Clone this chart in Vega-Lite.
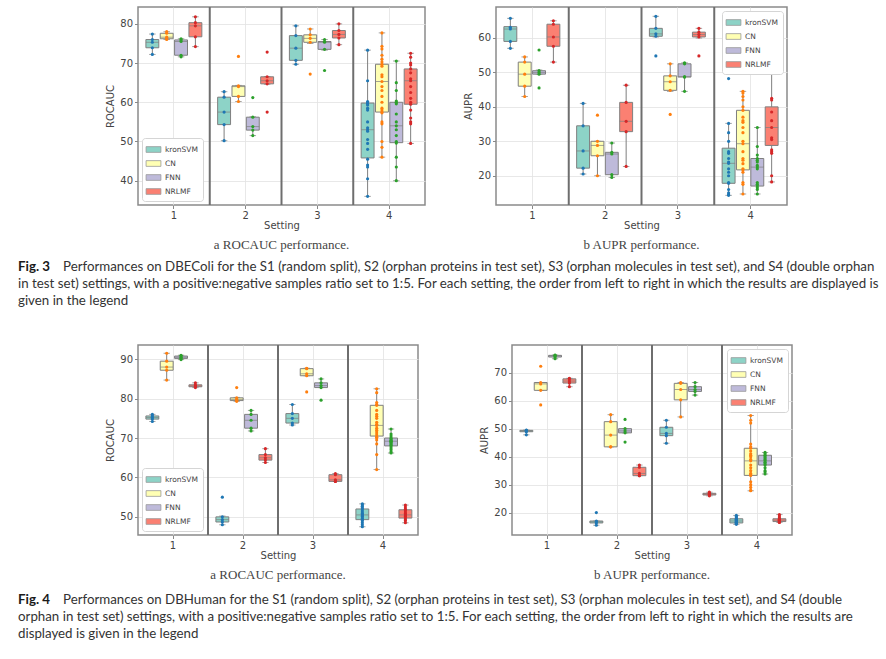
{
"$schema": "https://vega.github.io/schema/vega-lite/v6.json",
"padding": {"left": 18, "top": 5, "right": 0, "bottom": 0},
"autosize": {"type": "pad"},
"background": "white",
"spacing": 0,
"resolve": {"scale": {"fill": "independent", "color": "independent"}, "legend": {"fill": "independent", "color": "independent"}},
"config": {
  "font": "DejaVu Sans",
  "view": {"stroke": "#8a8a8a", "strokeWidth": 1.5},
  "axis": {"labelFont": "DejaVu Sans", "titleFont": "DejaVu Sans", "labelFontSize": 10, "titleFontSize": 10, "labelColor": "#444", "titleColor": "#444", "titleFontWeight": "normal", "grid": true, "gridColor": "#e2e2e2", "gridWidth": 0.8, "domain": false, "tickColor": "#888", "tickSize": 3.5, "labelPadding": 2, "titlePadding": 4},
  "axisX": {"titlePadding": 0},
  "legend": {"labelFont": "DejaVu Sans", "labelFontSize": 7.5, "labelColor": "#444", "symbolType": "M-1.3,-0.5H1.3V0.5H-1.3Z", "symbolSize": 130, "symbolStrokeColor": "#999", "symbolStrokeWidth": 0.8, "fillColor": "#ffffff", "strokeColor": "#d5d5d5", "cornerRadius": 3, "padding": 5, "offset": 4, "rowPadding": 3, "labelOffset": 5},
  "title": {"font": "Liberation Serif", "fontSize": 13, "fontWeight": "normal", "color": "#444"}
},
"datasets": {
  "sep": [{"setting": "2"}, {"setting": "3"}, {"setting": "4"}],
  "p1_box": [
    {"setting":"1","method":"kronSVM","lo":72.2,"q1":73.9,"med":75.3,"q3":76.0,"hi":77.4},
    {"setting":"1","method":"CN","lo":76.0,"q1":76.2,"med":76.6,"q3":77.6,"hi":78.0},
    {"setting":"1","method":"FNN","lo":71.6,"q1":72.0,"med":75.5,"q3":75.9,"hi":76.2},
    {"setting":"1","method":"NRLMF","lo":74.2,"q1":76.7,"med":79.5,"q3":80.3,"hi":81.8},
    {"setting":"2","method":"kronSVM","lo":50.2,"q1":54.3,"med":57.5,"q3":61.3,"hi":62.7},
    {"setting":"2","method":"CN","lo":60.2,"q1":61.5,"med":64.0,"q3":64.2,"hi":64.3},
    {"setting":"2","method":"FNN","lo":51.5,"q1":52.9,"med":53.8,"q3":56.2,"hi":56.3},
    {"setting":"2","method":"NRLMF","lo":64.6,"q1":64.7,"med":65.5,"q3":66.5,"hi":66.6},
    {"setting":"3","method":"kronSVM","lo":69.7,"q1":70.7,"med":73.8,"q3":77.0,"hi":79.5},
    {"setting":"3","method":"CN","lo":75.0,"q1":75.3,"med":76.3,"q3":77.2,"hi":78.7},
    {"setting":"3","method":"FNN","lo":73.3,"q1":73.5,"med":75.3,"q3":75.5,"hi":76.0},
    {"setting":"3","method":"NRLMF","lo":74.7,"q1":76.4,"med":77.3,"q3":78.3,"hi":80.0},
    {"setting":"4","method":"kronSVM","lo":36.0,"q1":45.8,"med":53.0,"q3":59.8,"hi":73.3},
    {"setting":"4","method":"CN","lo":46.0,"q1":57.5,"med":65.3,"q3":69.7,"hi":77.7},
    {"setting":"4","method":"FNN","lo":40.0,"q1":49.7,"med":54.0,"q3":60.0,"hi":70.5},
    {"setting":"4","method":"NRLMF","lo":49.5,"q1":59.5,"med":65.5,"q3":68.5,"hi":72.5}
  ],
  "p1_pts": [
    {"setting":"1","method":"kronSVM","value":77.4},{"setting":"1","method":"kronSVM","value":76.0},{"setting":"1","method":"kronSVM","value":75.3},{"setting":"1","method":"kronSVM","value":73.9},{"setting":"1","method":"kronSVM","value":72.2},
    {"setting":"1","method":"CN","value":78.0},{"setting":"1","method":"CN","value":77.6},{"setting":"1","method":"CN","value":76.6},{"setting":"1","method":"CN","value":76.2},{"setting":"1","method":"CN","value":76.0},
    {"setting":"1","method":"FNN","value":76.2},{"setting":"1","method":"FNN","value":75.9},{"setting":"1","method":"FNN","value":75.5},{"setting":"1","method":"FNN","value":72.0},{"setting":"1","method":"FNN","value":71.6},
    {"setting":"1","method":"NRLMF","value":81.8},{"setting":"1","method":"NRLMF","value":80.3},{"setting":"1","method":"NRLMF","value":79.5},{"setting":"1","method":"NRLMF","value":76.7},{"setting":"1","method":"NRLMF","value":74.2},
    {"setting":"2","method":"kronSVM","value":62.7},{"setting":"2","method":"kronSVM","value":61.3},{"setting":"2","method":"kronSVM","value":57.5},{"setting":"2","method":"kronSVM","value":54.3},{"setting":"2","method":"kronSVM","value":50.2},
    {"setting":"2","method":"CN","value":71.7},{"setting":"2","method":"CN","value":64.2},{"setting":"2","method":"CN","value":64.0},{"setting":"2","method":"CN","value":61.5},{"setting":"2","method":"CN","value":60.2},
    {"setting":"2","method":"FNN","value":61.2},{"setting":"2","method":"FNN","value":56.2},{"setting":"2","method":"FNN","value":53.8},{"setting":"2","method":"FNN","value":52.9},{"setting":"2","method":"FNN","value":51.5},
    {"setting":"2","method":"NRLMF","value":72.8},{"setting":"2","method":"NRLMF","value":66.5},{"setting":"2","method":"NRLMF","value":65.5},{"setting":"2","method":"NRLMF","value":64.7},{"setting":"2","method":"NRLMF","value":57.5},
    {"setting":"3","method":"kronSVM","value":79.5},{"setting":"3","method":"kronSVM","value":77.0},{"setting":"3","method":"kronSVM","value":73.8},{"setting":"3","method":"kronSVM","value":70.7},{"setting":"3","method":"kronSVM","value":69.7},
    {"setting":"3","method":"CN","value":78.7},{"setting":"3","method":"CN","value":77.2},{"setting":"3","method":"CN","value":76.3},{"setting":"3","method":"CN","value":75.3},{"setting":"3","method":"CN","value":67.2},
    {"setting":"3","method":"FNN","value":76.0},{"setting":"3","method":"FNN","value":75.5},{"setting":"3","method":"FNN","value":75.3},{"setting":"3","method":"FNN","value":73.5},{"setting":"3","method":"FNN","value":68.1},
    {"setting":"3","method":"NRLMF","value":80.0},{"setting":"3","method":"NRLMF","value":78.3},{"setting":"3","method":"NRLMF","value":77.3},{"setting":"3","method":"NRLMF","value":76.4},{"setting":"3","method":"NRLMF","value":74.7},
    {"setting":"4","method":"kronSVM","value":73.3},{"setting":"4","method":"kronSVM","value":65.5},{"setting":"4","method":"kronSVM","value":60.2},{"setting":"4","method":"kronSVM","value":59.9},{"setting":"4","method":"kronSVM","value":59.6},{"setting":"4","method":"kronSVM","value":59.3},{"setting":"4","method":"kronSVM","value":58.5},{"setting":"4","method":"kronSVM","value":58.0},{"setting":"4","method":"kronSVM","value":55.0},{"setting":"4","method":"kronSVM","value":53.5},{"setting":"4","method":"kronSVM","value":53.0},{"setting":"4","method":"kronSVM","value":52.6},{"setting":"4","method":"kronSVM","value":50.5},{"setting":"4","method":"kronSVM","value":49.5},{"setting":"4","method":"kronSVM","value":48.0},{"setting":"4","method":"kronSVM","value":45.5},{"setting":"4","method":"kronSVM","value":44.0},{"setting":"4","method":"kronSVM","value":43.5},{"setting":"4","method":"kronSVM","value":40.5},{"setting":"4","method":"kronSVM","value":36.0},
    {"setting":"4","method":"CN","value":77.7},{"setting":"4","method":"CN","value":74.3},{"setting":"4","method":"CN","value":73.6},{"setting":"4","method":"CN","value":72.0},{"setting":"4","method":"CN","value":71.0},{"setting":"4","method":"CN","value":70.3},{"setting":"4","method":"CN","value":69.7},{"setting":"4","method":"CN","value":69.2},{"setting":"4","method":"CN","value":67.0},{"setting":"4","method":"CN","value":66.5},{"setting":"4","method":"CN","value":65.3},{"setting":"4","method":"CN","value":64.0},{"setting":"4","method":"CN","value":63.0},{"setting":"4","method":"CN","value":61.5},{"setting":"4","method":"CN","value":60.0},{"setting":"4","method":"CN","value":58.5},{"setting":"4","method":"CN","value":58.0},{"setting":"4","method":"CN","value":57.5},{"setting":"4","method":"CN","value":57.3},{"setting":"4","method":"CN","value":55.0},{"setting":"4","method":"CN","value":54.5},{"setting":"4","method":"CN","value":50.0},{"setting":"4","method":"CN","value":48.5},{"setting":"4","method":"CN","value":46.0},
    {"setting":"4","method":"FNN","value":70.5},{"setting":"4","method":"FNN","value":65.0},{"setting":"4","method":"FNN","value":63.0},{"setting":"4","method":"FNN","value":60.3},{"setting":"4","method":"FNN","value":60.0},{"setting":"4","method":"FNN","value":59.6},{"setting":"4","method":"FNN","value":57.0},{"setting":"4","method":"FNN","value":55.0},{"setting":"4","method":"FNN","value":54.0},{"setting":"4","method":"FNN","value":53.0},{"setting":"4","method":"FNN","value":51.5},{"setting":"4","method":"FNN","value":50.0},{"setting":"4","method":"FNN","value":49.6},{"setting":"4","method":"FNN","value":46.0},{"setting":"4","method":"FNN","value":43.5},{"setting":"4","method":"FNN","value":40.0},
    {"setting":"4","method":"NRLMF","value":72.5},{"setting":"4","method":"NRLMF","value":71.5},{"setting":"4","method":"NRLMF","value":70.0},{"setting":"4","method":"NRLMF","value":69.5},{"setting":"4","method":"NRLMF","value":68.5},{"setting":"4","method":"NRLMF","value":67.5},{"setting":"4","method":"NRLMF","value":66.0},{"setting":"4","method":"NRLMF","value":65.5},{"setting":"4","method":"NRLMF","value":64.0},{"setting":"4","method":"NRLMF","value":62.5},{"setting":"4","method":"NRLMF","value":61.0},{"setting":"4","method":"NRLMF","value":60.0},{"setting":"4","method":"NRLMF","value":59.5},{"setting":"4","method":"NRLMF","value":58.0},{"setting":"4","method":"NRLMF","value":56.0},{"setting":"4","method":"NRLMF","value":55.0},{"setting":"4","method":"NRLMF","value":54.5},{"setting":"4","method":"NRLMF","value":49.5}
  ],
  "p2_box": [
    {"setting":"1","method":"kronSVM","lo":57.0,"q1":59.0,"med":62.6,"q3":63.3,"hi":65.7},
    {"setting":"1","method":"CN","lo":43.0,"q1":46.0,"med":49.5,"q3":53.0,"hi":54.5},
    {"setting":"1","method":"FNN","lo":49.5,"q1":49.5,"med":50.0,"q3":50.5,"hi":50.7},
    {"setting":"1","method":"NRLMF","lo":53.0,"q1":57.6,"med":60.3,"q3":64.0,"hi":65.0},
    {"setting":"2","method":"kronSVM","lo":20.5,"q1":22.2,"med":27.2,"q3":34.5,"hi":41.0},
    {"setting":"2","method":"CN","lo":20.0,"q1":25.8,"med":28.8,"q3":30.0,"hi":30.0},
    {"setting":"2","method":"FNN","lo":19.5,"q1":20.3,"med":26.3,"q3":26.8,"hi":29.5},
    {"setting":"2","method":"NRLMF","lo":22.7,"q1":32.8,"med":35.8,"q3":41.3,"hi":46.3},
    {"setting":"3","method":"kronSVM","lo":60.3,"q1":60.5,"med":61.2,"q3":62.8,"hi":66.3},
    {"setting":"3","method":"CN","lo":44.5,"q1":44.8,"med":47.3,"q3":49.0,"hi":52.5},
    {"setting":"3","method":"FNN","lo":44.5,"q1":48.7,"med":48.7,"q3":52.5,"hi":52.8},
    {"setting":"3","method":"NRLMF","lo":60.0,"q1":60.3,"med":61.0,"q3":61.7,"hi":62.8},
    {"setting":"4","method":"kronSVM","lo":14.3,"q1":17.8,"med":23.6,"q3":28.0,"hi":35.2},
    {"setting":"4","method":"CN","lo":14.7,"q1":21.7,"med":29.3,"q3":39.0,"hi":44.5},
    {"setting":"4","method":"FNN","lo":14.7,"q1":17.0,"med":22.5,"q3":25.0,"hi":34.0},
    {"setting":"4","method":"NRLMF","lo":18.2,"q1":28.8,"med":34.0,"q3":40.0,"hi":53.5}
  ],
  "p2_pts": [
    {"setting":"1","method":"kronSVM","value":65.7},{"setting":"1","method":"kronSVM","value":63.1},{"setting":"1","method":"kronSVM","value":62.6},{"setting":"1","method":"kronSVM","value":59.0},{"setting":"1","method":"kronSVM","value":57.0},
    {"setting":"1","method":"CN","value":54.5},{"setting":"1","method":"CN","value":53.0},{"setting":"1","method":"CN","value":49.5},{"setting":"1","method":"CN","value":46.0},{"setting":"1","method":"CN","value":43.0},
    {"setting":"1","method":"FNN","value":56.5},{"setting":"1","method":"FNN","value":50.5},{"setting":"1","method":"FNN","value":50.0},{"setting":"1","method":"FNN","value":49.5},{"setting":"1","method":"FNN","value":45.5},
    {"setting":"1","method":"NRLMF","value":65.0},{"setting":"1","method":"NRLMF","value":64.0},{"setting":"1","method":"NRLMF","value":60.3},{"setting":"1","method":"NRLMF","value":57.6},{"setting":"1","method":"NRLMF","value":53.0},
    {"setting":"2","method":"kronSVM","value":41.0},{"setting":"2","method":"kronSVM","value":34.5},{"setting":"2","method":"kronSVM","value":27.2},{"setting":"2","method":"kronSVM","value":22.2},{"setting":"2","method":"kronSVM","value":20.5},
    {"setting":"2","method":"CN","value":37.6},{"setting":"2","method":"CN","value":30.0},{"setting":"2","method":"CN","value":28.8},{"setting":"2","method":"CN","value":25.8},{"setting":"2","method":"CN","value":20.0},
    {"setting":"2","method":"FNN","value":29.5},{"setting":"2","method":"FNN","value":26.8},{"setting":"2","method":"FNN","value":26.3},{"setting":"2","method":"FNN","value":20.3},{"setting":"2","method":"FNN","value":19.5},
    {"setting":"2","method":"NRLMF","value":46.3},{"setting":"2","method":"NRLMF","value":41.3},{"setting":"2","method":"NRLMF","value":35.8},{"setting":"2","method":"NRLMF","value":32.8},{"setting":"2","method":"NRLMF","value":22.7},
    {"setting":"3","method":"kronSVM","value":66.3},{"setting":"3","method":"kronSVM","value":62.8},{"setting":"3","method":"kronSVM","value":61.2},{"setting":"3","method":"kronSVM","value":60.5},{"setting":"3","method":"kronSVM","value":54.8},
    {"setting":"3","method":"CN","value":52.5},{"setting":"3","method":"CN","value":49.0},{"setting":"3","method":"CN","value":47.3},{"setting":"3","method":"CN","value":44.8},{"setting":"3","method":"CN","value":37.8},
    {"setting":"3","method":"FNN","value":52.8},{"setting":"3","method":"FNN","value":52.5},{"setting":"3","method":"FNN","value":48.7},{"setting":"3","method":"FNN","value":48.7},{"setting":"3","method":"FNN","value":44.5},
    {"setting":"3","method":"NRLMF","value":62.8},{"setting":"3","method":"NRLMF","value":61.7},{"setting":"3","method":"NRLMF","value":61.0},{"setting":"3","method":"NRLMF","value":60.3},{"setting":"3","method":"NRLMF","value":54.8},
    {"setting":"4","method":"kronSVM","value":48.2},{"setting":"4","method":"kronSVM","value":35.2},{"setting":"4","method":"kronSVM","value":32.5},{"setting":"4","method":"kronSVM","value":30.0},{"setting":"4","method":"kronSVM","value":27.0},{"setting":"4","method":"kronSVM","value":26.5},{"setting":"4","method":"kronSVM","value":25.0},{"setting":"4","method":"kronSVM","value":24.0},{"setting":"4","method":"kronSVM","value":23.6},{"setting":"4","method":"kronSVM","value":22.0},{"setting":"4","method":"kronSVM","value":21.0},{"setting":"4","method":"kronSVM","value":20.0},{"setting":"4","method":"kronSVM","value":18.0},{"setting":"4","method":"kronSVM","value":17.8},{"setting":"4","method":"kronSVM","value":16.0},{"setting":"4","method":"kronSVM","value":15.0},{"setting":"4","method":"kronSVM","value":14.5},{"setting":"4","method":"kronSVM","value":14.3},
    {"setting":"4","method":"CN","value":44.5},{"setting":"4","method":"CN","value":44.0},{"setting":"4","method":"CN","value":43.0},{"setting":"4","method":"CN","value":42.0},{"setting":"4","method":"CN","value":40.0},{"setting":"4","method":"CN","value":39.0},{"setting":"4","method":"CN","value":37.0},{"setting":"4","method":"CN","value":36.0},{"setting":"4","method":"CN","value":35.5},{"setting":"4","method":"CN","value":34.0},{"setting":"4","method":"CN","value":32.5},{"setting":"4","method":"CN","value":30.0},{"setting":"4","method":"CN","value":29.3},{"setting":"4","method":"CN","value":27.0},{"setting":"4","method":"CN","value":25.0},{"setting":"4","method":"CN","value":24.5},{"setting":"4","method":"CN","value":23.5},{"setting":"4","method":"CN","value":22.0},{"setting":"4","method":"CN","value":21.7},{"setting":"4","method":"CN","value":21.0},{"setting":"4","method":"CN","value":18.0},{"setting":"4","method":"CN","value":17.5},{"setting":"4","method":"CN","value":14.7},
    {"setting":"4","method":"FNN","value":49.7},{"setting":"4","method":"FNN","value":34.0},{"setting":"4","method":"FNN","value":28.5},{"setting":"4","method":"FNN","value":26.0},{"setting":"4","method":"FNN","value":25.0},{"setting":"4","method":"FNN","value":24.5},{"setting":"4","method":"FNN","value":24.0},{"setting":"4","method":"FNN","value":23.0},{"setting":"4","method":"FNN","value":22.5},{"setting":"4","method":"FNN","value":22.0},{"setting":"4","method":"FNN","value":18.0},{"setting":"4","method":"FNN","value":17.5},{"setting":"4","method":"FNN","value":17.0},{"setting":"4","method":"FNN","value":16.5},{"setting":"4","method":"FNN","value":16.0},{"setting":"4","method":"FNN","value":14.7},
    {"setting":"4","method":"NRLMF","value":53.5},{"setting":"4","method":"NRLMF","value":51.5},{"setting":"4","method":"NRLMF","value":42.5},{"setting":"4","method":"NRLMF","value":42.0},{"setting":"4","method":"NRLMF","value":38.5},{"setting":"4","method":"NRLMF","value":36.0},{"setting":"4","method":"NRLMF","value":34.0},{"setting":"4","method":"NRLMF","value":31.0},{"setting":"4","method":"NRLMF","value":30.5},{"setting":"4","method":"NRLMF","value":27.5},{"setting":"4","method":"NRLMF","value":27.0},{"setting":"4","method":"NRLMF","value":26.5},{"setting":"4","method":"NRLMF","value":20.0},{"setting":"4","method":"NRLMF","value":18.2}
  ],
  "p3_box": [
    {"setting":"1","method":"kronSVM","lo":74.2,"q1":74.8,"med":75.2,"q3":75.6,"hi":76.0},
    {"setting":"1","method":"CN","lo":84.7,"q1":87.2,"med":88.0,"q3":89.5,"hi":91.5},
    {"setting":"1","method":"FNN","lo":89.9,"q1":90.2,"med":90.5,"q3":90.8,"hi":91.0},
    {"setting":"1","method":"NRLMF","lo":82.8,"q1":83.0,"med":83.2,"q3":83.5,"hi":84.0},
    {"setting":"2","method":"kronSVM","lo":48.0,"q1":48.7,"med":49.3,"q3":50.0,"hi":50.2},
    {"setting":"2","method":"CN","lo":79.3,"q1":79.5,"med":79.8,"q3":80.2,"hi":80.3},
    {"setting":"2","method":"FNN","lo":71.8,"q1":72.5,"med":74.5,"q3":76.0,"hi":77.0},
    {"setting":"2","method":"NRLMF","lo":63.8,"q1":64.4,"med":65.0,"q3":65.8,"hi":67.3},
    {"setting":"3","method":"kronSVM","lo":73.3,"q1":73.8,"med":75.0,"q3":76.2,"hi":78.5},
    {"setting":"3","method":"CN","lo":85.8,"q1":85.8,"med":86.3,"q3":87.6,"hi":87.7},
    {"setting":"3","method":"FNN","lo":82.8,"q1":82.8,"med":83.3,"q3":84.0,"hi":85.0},
    {"setting":"3","method":"NRLMF","lo":59.0,"q1":59.0,"med":59.4,"q3":60.7,"hi":61.0},
    {"setting":"4","method":"kronSVM","lo":47.5,"q1":49.3,"med":50.5,"q3":52.0,"hi":53.3},
    {"setting":"4","method":"CN","lo":62.0,"q1":70.5,"med":73.2,"q3":78.3,"hi":82.5},
    {"setting":"4","method":"FNN","lo":66.2,"q1":68.0,"med":69.2,"q3":70.0,"hi":72.3},
    {"setting":"4","method":"NRLMF","lo":48.5,"q1":49.7,"med":50.5,"q3":51.8,"hi":53.0}
  ],
  "p3_pts": [
    {"setting":"1","method":"kronSVM","value":76.0},{"setting":"1","method":"kronSVM","value":75.6},{"setting":"1","method":"kronSVM","value":75.2},{"setting":"1","method":"kronSVM","value":74.8},{"setting":"1","method":"kronSVM","value":74.2},
    {"setting":"1","method":"CN","value":91.5},{"setting":"1","method":"CN","value":89.5},{"setting":"1","method":"CN","value":88.0},{"setting":"1","method":"CN","value":87.2},{"setting":"1","method":"CN","value":84.7},
    {"setting":"1","method":"FNN","value":91.0},{"setting":"1","method":"FNN","value":90.8},{"setting":"1","method":"FNN","value":90.5},{"setting":"1","method":"FNN","value":90.2},{"setting":"1","method":"FNN","value":89.9},
    {"setting":"1","method":"NRLMF","value":84.0},{"setting":"1","method":"NRLMF","value":83.5},{"setting":"1","method":"NRLMF","value":83.2},{"setting":"1","method":"NRLMF","value":83.0},{"setting":"1","method":"NRLMF","value":82.8},
    {"setting":"2","method":"kronSVM","value":55.0},{"setting":"2","method":"kronSVM","value":50.0},{"setting":"2","method":"kronSVM","value":49.3},{"setting":"2","method":"kronSVM","value":48.7},{"setting":"2","method":"kronSVM","value":48.0},
    {"setting":"2","method":"CN","value":82.8},{"setting":"2","method":"CN","value":80.2},{"setting":"2","method":"CN","value":79.8},{"setting":"2","method":"CN","value":79.5},{"setting":"2","method":"CN","value":79.3},
    {"setting":"2","method":"FNN","value":77.0},{"setting":"2","method":"FNN","value":76.0},{"setting":"2","method":"FNN","value":74.5},{"setting":"2","method":"FNN","value":72.5},{"setting":"2","method":"FNN","value":71.8},
    {"setting":"2","method":"NRLMF","value":67.3},{"setting":"2","method":"NRLMF","value":65.8},{"setting":"2","method":"NRLMF","value":65.0},{"setting":"2","method":"NRLMF","value":64.4},{"setting":"2","method":"NRLMF","value":63.8},
    {"setting":"3","method":"kronSVM","value":78.5},{"setting":"3","method":"kronSVM","value":76.2},{"setting":"3","method":"kronSVM","value":75.0},{"setting":"3","method":"kronSVM","value":73.8},{"setting":"3","method":"kronSVM","value":73.3},
    {"setting":"3","method":"CN","value":87.7},{"setting":"3","method":"CN","value":87.6},{"setting":"3","method":"CN","value":86.3},{"setting":"3","method":"CN","value":85.8},{"setting":"3","method":"CN","value":81.7},
    {"setting":"3","method":"FNN","value":85.0},{"setting":"3","method":"FNN","value":84.0},{"setting":"3","method":"FNN","value":83.3},{"setting":"3","method":"FNN","value":82.8},{"setting":"3","method":"FNN","value":79.6},
    {"setting":"3","method":"NRLMF","value":61.0},{"setting":"3","method":"NRLMF","value":60.7},{"setting":"3","method":"NRLMF","value":59.4},{"setting":"3","method":"NRLMF","value":59.0},{"setting":"3","method":"NRLMF","value":59.0},
    {"setting":"4","method":"kronSVM","value":53.3},{"setting":"4","method":"kronSVM","value":53.0},{"setting":"4","method":"kronSVM","value":52.7},{"setting":"4","method":"kronSVM","value":52.3},{"setting":"4","method":"kronSVM","value":52.0},{"setting":"4","method":"kronSVM","value":51.5},{"setting":"4","method":"kronSVM","value":51.0},{"setting":"4","method":"kronSVM","value":50.8},{"setting":"4","method":"kronSVM","value":50.5},{"setting":"4","method":"kronSVM","value":50.2},{"setting":"4","method":"kronSVM","value":50.0},{"setting":"4","method":"kronSVM","value":49.6},{"setting":"4","method":"kronSVM","value":49.3},{"setting":"4","method":"kronSVM","value":49.0},{"setting":"4","method":"kronSVM","value":48.5},{"setting":"4","method":"kronSVM","value":48.0},{"setting":"4","method":"kronSVM","value":47.5},
    {"setting":"4","method":"CN","value":82.5},{"setting":"4","method":"CN","value":81.5},{"setting":"4","method":"CN","value":79.0},{"setting":"4","method":"CN","value":78.5},{"setting":"4","method":"CN","value":78.3},{"setting":"4","method":"CN","value":77.0},{"setting":"4","method":"CN","value":76.0},{"setting":"4","method":"CN","value":75.5},{"setting":"4","method":"CN","value":75.0},{"setting":"4","method":"CN","value":74.0},{"setting":"4","method":"CN","value":73.5},{"setting":"4","method":"CN","value":73.2},{"setting":"4","method":"CN","value":72.5},{"setting":"4","method":"CN","value":72.0},{"setting":"4","method":"CN","value":71.5},{"setting":"4","method":"CN","value":71.0},{"setting":"4","method":"CN","value":70.5},{"setting":"4","method":"CN","value":70.2},{"setting":"4","method":"CN","value":70.0},{"setting":"4","method":"CN","value":69.5},{"setting":"4","method":"CN","value":68.5},{"setting":"4","method":"CN","value":65.8},{"setting":"4","method":"CN","value":62.0},
    {"setting":"4","method":"FNN","value":72.3},{"setting":"4","method":"FNN","value":71.0},{"setting":"4","method":"FNN","value":70.5},{"setting":"4","method":"FNN","value":70.0},{"setting":"4","method":"FNN","value":69.8},{"setting":"4","method":"FNN","value":69.5},{"setting":"4","method":"FNN","value":69.3},{"setting":"4","method":"FNN","value":69.2},{"setting":"4","method":"FNN","value":69.0},{"setting":"4","method":"FNN","value":68.8},{"setting":"4","method":"FNN","value":68.5},{"setting":"4","method":"FNN","value":68.2},{"setting":"4","method":"FNN","value":68.0},{"setting":"4","method":"FNN","value":67.5},{"setting":"4","method":"FNN","value":67.0},{"setting":"4","method":"FNN","value":66.5},{"setting":"4","method":"FNN","value":66.2},
    {"setting":"4","method":"NRLMF","value":53.0},{"setting":"4","method":"NRLMF","value":52.5},{"setting":"4","method":"NRLMF","value":52.0},{"setting":"4","method":"NRLMF","value":51.8},{"setting":"4","method":"NRLMF","value":51.5},{"setting":"4","method":"NRLMF","value":51.0},{"setting":"4","method":"NRLMF","value":50.8},{"setting":"4","method":"NRLMF","value":50.5},{"setting":"4","method":"NRLMF","value":50.2},{"setting":"4","method":"NRLMF","value":50.0},{"setting":"4","method":"NRLMF","value":49.7},{"setting":"4","method":"NRLMF","value":49.3},{"setting":"4","method":"NRLMF","value":49.0},{"setting":"4","method":"NRLMF","value":48.5}
  ],
  "p4_box": [
    {"setting":"1","method":"kronSVM","lo":47.8,"q1":48.9,"med":49.2,"q3":49.4,"hi":49.5},
    {"setting":"1","method":"CN","lo":63.7,"q1":63.7,"med":66.0,"q3":66.5,"hi":66.5},
    {"setting":"1","method":"FNN","lo":75.0,"q1":75.6,"med":76.0,"q3":76.2,"hi":76.3},
    {"setting":"1","method":"NRLMF","lo":65.0,"q1":66.3,"med":67.0,"q3":67.8,"hi":68.0},
    {"setting":"2","method":"kronSVM","lo":15.5,"q1":16.3,"med":16.7,"q3":17.0,"hi":17.0},
    {"setting":"2","method":"CN","lo":43.5,"q1":43.5,"med":47.7,"q3":52.5,"hi":55.0},
    {"setting":"2","method":"FNN","lo":48.5,"q1":48.5,"med":49.2,"q3":50.0,"hi":50.0},
    {"setting":"2","method":"NRLMF","lo":33.2,"q1":33.2,"med":34.0,"q3":36.2,"hi":37.0},
    {"setting":"3","method":"kronSVM","lo":44.8,"q1":47.5,"med":48.3,"q3":50.5,"hi":53.0},
    {"setting":"3","method":"CN","lo":54.2,"q1":60.3,"med":64.0,"q3":66.2,"hi":66.5},
    {"setting":"3","method":"FNN","lo":62.0,"q1":63.3,"med":64.0,"q3":65.0,"hi":66.5},
    {"setting":"3","method":"NRLMF","lo":26.0,"q1":26.3,"med":26.6,"q3":26.9,"hi":27.3},
    {"setting":"4","method":"kronSVM","lo":15.8,"q1":16.3,"med":17.0,"q3":17.8,"hi":19.0},
    {"setting":"4","method":"CN","lo":27.8,"q1":33.3,"med":38.5,"q3":43.0,"hi":54.7},
    {"setting":"4","method":"FNN","lo":33.8,"q1":37.0,"med":38.5,"q3":40.5,"hi":41.5},
    {"setting":"4","method":"NRLMF","lo":16.5,"q1":16.8,"med":17.3,"q3":17.8,"hi":19.3}
  ],
  "p4_pts": [
    {"setting":"1","method":"kronSVM","value":49.5},{"setting":"1","method":"kronSVM","value":49.4},{"setting":"1","method":"kronSVM","value":49.2},{"setting":"1","method":"kronSVM","value":48.9},{"setting":"1","method":"kronSVM","value":47.8},
    {"setting":"1","method":"CN","value":72.3},{"setting":"1","method":"CN","value":66.5},{"setting":"1","method":"CN","value":66.0},{"setting":"1","method":"CN","value":63.7},{"setting":"1","method":"CN","value":58.5},
    {"setting":"1","method":"FNN","value":76.3},{"setting":"1","method":"FNN","value":76.2},{"setting":"1","method":"FNN","value":76.0},{"setting":"1","method":"FNN","value":75.6},{"setting":"1","method":"FNN","value":75.0},
    {"setting":"1","method":"NRLMF","value":68.0},{"setting":"1","method":"NRLMF","value":67.8},{"setting":"1","method":"NRLMF","value":67.0},{"setting":"1","method":"NRLMF","value":66.3},{"setting":"1","method":"NRLMF","value":65.0},
    {"setting":"2","method":"kronSVM","value":20.0},{"setting":"2","method":"kronSVM","value":17.0},{"setting":"2","method":"kronSVM","value":16.7},{"setting":"2","method":"kronSVM","value":16.3},{"setting":"2","method":"kronSVM","value":15.5},
    {"setting":"2","method":"CN","value":55.0},{"setting":"2","method":"CN","value":52.5},{"setting":"2","method":"CN","value":47.7},{"setting":"2","method":"CN","value":43.5},{"setting":"2","method":"CN","value":43.5},
    {"setting":"2","method":"FNN","value":53.3},{"setting":"2","method":"FNN","value":50.0},{"setting":"2","method":"FNN","value":49.2},{"setting":"2","method":"FNN","value":48.5},{"setting":"2","method":"FNN","value":45.2},
    {"setting":"2","method":"NRLMF","value":37.0},{"setting":"2","method":"NRLMF","value":36.2},{"setting":"2","method":"NRLMF","value":34.0},{"setting":"2","method":"NRLMF","value":33.2},{"setting":"2","method":"NRLMF","value":33.2},
    {"setting":"3","method":"kronSVM","value":53.0},{"setting":"3","method":"kronSVM","value":50.5},{"setting":"3","method":"kronSVM","value":48.3},{"setting":"3","method":"kronSVM","value":47.5},{"setting":"3","method":"kronSVM","value":44.8},
    {"setting":"3","method":"CN","value":66.5},{"setting":"3","method":"CN","value":66.2},{"setting":"3","method":"CN","value":64.0},{"setting":"3","method":"CN","value":60.3},{"setting":"3","method":"CN","value":54.2},
    {"setting":"3","method":"FNN","value":66.5},{"setting":"3","method":"FNN","value":65.0},{"setting":"3","method":"FNN","value":64.0},{"setting":"3","method":"FNN","value":63.3},{"setting":"3","method":"FNN","value":62.0},
    {"setting":"3","method":"NRLMF","value":27.3},{"setting":"3","method":"NRLMF","value":26.9},{"setting":"3","method":"NRLMF","value":26.6},{"setting":"3","method":"NRLMF","value":26.3},{"setting":"3","method":"NRLMF","value":26.0},
    {"setting":"4","method":"kronSVM","value":19.0},{"setting":"4","method":"kronSVM","value":18.6},{"setting":"4","method":"kronSVM","value":18.2},{"setting":"4","method":"kronSVM","value":17.8},{"setting":"4","method":"kronSVM","value":17.6},{"setting":"4","method":"kronSVM","value":17.4},{"setting":"4","method":"kronSVM","value":17.2},{"setting":"4","method":"kronSVM","value":17.0},{"setting":"4","method":"kronSVM","value":16.8},{"setting":"4","method":"kronSVM","value":16.6},{"setting":"4","method":"kronSVM","value":16.4},{"setting":"4","method":"kronSVM","value":16.3},{"setting":"4","method":"kronSVM","value":16.1},{"setting":"4","method":"kronSVM","value":15.8},
    {"setting":"4","method":"CN","value":54.7},{"setting":"4","method":"CN","value":53.0},{"setting":"4","method":"CN","value":52.0},{"setting":"4","method":"CN","value":44.5},{"setting":"4","method":"CN","value":43.5},{"setting":"4","method":"CN","value":43.0},{"setting":"4","method":"CN","value":42.0},{"setting":"4","method":"CN","value":41.0},{"setting":"4","method":"CN","value":40.5},{"setting":"4","method":"CN","value":40.0},{"setting":"4","method":"CN","value":39.0},{"setting":"4","method":"CN","value":38.5},{"setting":"4","method":"CN","value":37.0},{"setting":"4","method":"CN","value":36.0},{"setting":"4","method":"CN","value":35.0},{"setting":"4","method":"CN","value":34.0},{"setting":"4","method":"CN","value":33.5},{"setting":"4","method":"CN","value":33.3},{"setting":"4","method":"CN","value":31.0},{"setting":"4","method":"CN","value":30.0},{"setting":"4","method":"CN","value":29.0},{"setting":"4","method":"CN","value":28.0},{"setting":"4","method":"CN","value":27.8},
    {"setting":"4","method":"FNN","value":41.5},{"setting":"4","method":"FNN","value":41.0},{"setting":"4","method":"FNN","value":40.5},{"setting":"4","method":"FNN","value":40.0},{"setting":"4","method":"FNN","value":39.5},{"setting":"4","method":"FNN","value":39.0},{"setting":"4","method":"FNN","value":38.5},{"setting":"4","method":"FNN","value":38.0},{"setting":"4","method":"FNN","value":37.5},{"setting":"4","method":"FNN","value":37.0},{"setting":"4","method":"FNN","value":36.0},{"setting":"4","method":"FNN","value":35.0},{"setting":"4","method":"FNN","value":34.5},{"setting":"4","method":"FNN","value":33.8},
    {"setting":"4","method":"NRLMF","value":19.3},{"setting":"4","method":"NRLMF","value":18.8},{"setting":"4","method":"NRLMF","value":18.2},{"setting":"4","method":"NRLMF","value":17.8},{"setting":"4","method":"NRLMF","value":17.6},{"setting":"4","method":"NRLMF","value":17.4},{"setting":"4","method":"NRLMF","value":17.3},{"setting":"4","method":"NRLMF","value":17.1},{"setting":"4","method":"NRLMF","value":17.0},{"setting":"4","method":"NRLMF","value":16.8},{"setting":"4","method":"NRLMF","value":16.6},{"setting":"4","method":"NRLMF","value":16.5}
  ]
},
"vconcat": [
  {
    "bounds": "flush",
    "spacing": 71,
    "resolve": {"scale": {"fill": "independent", "color": "independent"}, "legend": {"fill": "independent", "color": "independent"}},
    "hconcat": [
      {"width": 49, "height": 10, "view": {"stroke": null}, "data": {"values": []}, "mark": "point", "encoding": {}},
      {
        "width": 287, "height": 198,
        "title": {"text": "a ROCAUC performance.", "orient": "bottom", "anchor": "middle", "frame": "group", "offset": 8},
        "encoding": {"x": {"field": "setting", "type": "nominal", "title": "Setting", "scale": {"domain": ["1","2","3","4"], "paddingInner": 0, "paddingOuter": 0}, "axis": {"labelAngle": 0, "grid": true, "bandPosition": 0.5}}},
        "layer": [
          {"data": {"name": "sep"}, "mark": {"type": "rule", "color": "#6e6e6e", "strokeWidth": 2}, "encoding": {"x": {"field": "setting", "type": "nominal", "bandPosition": 0}}},
          {"data": {"name": "p1_box"},
           "encoding": {"xOffset": {"field": "method", "type": "nominal", "sort": null, "scale": {"domain": ["kronSVM","CN","FNN","NRLMF"], "paddingInner": 0.1, "paddingOuter": 0.55}}},
           "layer": [
             {"mark": {"type": "rule", "color": "#7f7f7f", "strokeWidth": 1}, "encoding": {"y": {"field": "lo", "type": "quantitative", "title": "ROCAUC", "scale": {"domain": [33.8, 84.3], "nice": false, "zero": false}, "axis": {"values": [40,50,60,70,80]}}, "y2": {"field": "hi"}}},
             {"mark": {"type": "tick", "orient": "horizontal", "size": 6.5, "thickness": 1, "color": "#7f7f7f"}, "encoding": {"y": {"field": "lo", "type": "quantitative", "title": "ROCAUC", "scale": {"domain": [33.8, 84.3], "nice": false, "zero": false}, "axis": {"values": [40,50,60,70,80]}}}},
             {"mark": {"type": "tick", "orient": "horizontal", "size": 6.5, "thickness": 1, "color": "#7f7f7f"}, "encoding": {"y": {"field": "hi", "type": "quantitative", "title": "ROCAUC", "scale": {"domain": [33.8, 84.3], "nice": false, "zero": false}, "axis": {"values": [40,50,60,70,80]}}}},
             {"mark": {"type": "bar", "stroke": "#7f7f7f", "strokeWidth": 1}, "encoding": {"y": {"field": "q1", "type": "quantitative", "title": "ROCAUC", "scale": {"domain": [33.8, 84.3], "nice": false, "zero": false}, "axis": {"values": [40,50,60,70,80]}}, "y2": {"field": "q3"}, "fill": {"field": "method", "type": "nominal", "scale": {"domain": ["kronSVM","CN","FNN","NRLMF"], "range": ["#8dd3c7","#ffffb3","#bebada","#fb8072"]}, "legend": {"orient": "bottom-left", "title": null}}}},
             {"mark": {"type": "tick", "orient": "horizontal", "size": 12.9, "thickness": 1, "color": "#7f7f7f"}, "encoding": {"y": {"field": "med", "type": "quantitative", "title": "ROCAUC", "scale": {"domain": [33.8, 84.3], "nice": false, "zero": false}, "axis": {"values": [40,50,60,70,80]}}}}
           ]},
          {"data": {"name": "p1_pts"}, "mark": {"type": "circle", "size": 10, "opacity": 1},
           "encoding": {"xOffset": {"field": "method", "type": "nominal", "sort": null, "scale": {"domain": ["kronSVM","CN","FNN","NRLMF"], "paddingInner": 0.1, "paddingOuter": 0.55}},
             "y": {"field": "value", "type": "quantitative", "title": "ROCAUC", "scale": {"domain": [33.8, 84.3], "nice": false, "zero": false}, "axis": {"values": [40,50,60,70,80]}},
             "color": {"field": "method", "type": "nominal", "scale": {"domain": ["kronSVM","CN","FNN","NRLMF"], "range": ["#1f77b4","#ff7f0e","#2ca02c","#d62728"]}, "legend": null}}}
        ]
      },
      {
        "width": 291, "height": 198,
        "title": {"text": "b AUPR performance.", "orient": "bottom", "anchor": "middle", "frame": "group", "offset": 8},
        "encoding": {"x": {"field": "setting", "type": "nominal", "title": "Setting", "scale": {"domain": ["1","2","3","4"], "paddingInner": 0, "paddingOuter": 0}, "axis": {"labelAngle": 0, "grid": true, "bandPosition": 0.5}}},
        "layer": [
          {"data": {"name": "sep"}, "mark": {"type": "rule", "color": "#6e6e6e", "strokeWidth": 2}, "encoding": {"x": {"field": "setting", "type": "nominal", "bandPosition": 0}}},
          {"data": {"name": "p2_box"},
           "encoding": {"xOffset": {"field": "method", "type": "nominal", "sort": null, "scale": {"domain": ["kronSVM","CN","FNN","NRLMF"], "paddingInner": 0.1, "paddingOuter": 0.55}}},
           "layer": [
             {"mark": {"type": "rule", "color": "#7f7f7f", "strokeWidth": 1}, "encoding": {"y": {"field": "lo", "type": "quantitative", "title": "AUPR", "scale": {"domain": [11.5, 69], "nice": false, "zero": false}, "axis": {"values": [20,30,40,50,60]}}, "y2": {"field": "hi"}}},
             {"mark": {"type": "tick", "orient": "horizontal", "size": 6.5, "thickness": 1, "color": "#7f7f7f"}, "encoding": {"y": {"field": "lo", "type": "quantitative", "title": "AUPR", "scale": {"domain": [11.5, 69], "nice": false, "zero": false}, "axis": {"values": [20,30,40,50,60]}}}},
             {"mark": {"type": "tick", "orient": "horizontal", "size": 6.5, "thickness": 1, "color": "#7f7f7f"}, "encoding": {"y": {"field": "hi", "type": "quantitative", "title": "AUPR", "scale": {"domain": [11.5, 69], "nice": false, "zero": false}, "axis": {"values": [20,30,40,50,60]}}}},
             {"mark": {"type": "bar", "stroke": "#7f7f7f", "strokeWidth": 1}, "encoding": {"y": {"field": "q1", "type": "quantitative", "title": "AUPR", "scale": {"domain": [11.5, 69], "nice": false, "zero": false}, "axis": {"values": [20,30,40,50,60]}}, "y2": {"field": "q3"}, "fill": {"field": "method", "type": "nominal", "scale": {"domain": ["kronSVM","CN","FNN","NRLMF"], "range": ["#8dd3c7","#ffffb3","#bebada","#fb8072"]}, "legend": {"orient": "top-right", "title": null}}}},
             {"mark": {"type": "tick", "orient": "horizontal", "size": 13.1, "thickness": 1, "color": "#7f7f7f"}, "encoding": {"y": {"field": "med", "type": "quantitative", "title": "AUPR", "scale": {"domain": [11.5, 69], "nice": false, "zero": false}, "axis": {"values": [20,30,40,50,60]}}}}
           ]},
          {"data": {"name": "p2_pts"}, "mark": {"type": "circle", "size": 10, "opacity": 1},
           "encoding": {"xOffset": {"field": "method", "type": "nominal", "sort": null, "scale": {"domain": ["kronSVM","CN","FNN","NRLMF"], "paddingInner": 0.1, "paddingOuter": 0.55}},
             "y": {"field": "value", "type": "quantitative", "title": "AUPR", "scale": {"domain": [11.5, 69], "nice": false, "zero": false}, "axis": {"values": [20,30,40,50,60]}},
             "color": {"field": "method", "type": "nominal", "scale": {"domain": ["kronSVM","CN","FNN","NRLMF"], "range": ["#1f77b4","#ff7f0e","#2ca02c","#d62728"]}, "legend": null}}}
        ]
      }
    ]
  },
  {
    "width": 860, "height": 90, "view": {"stroke": null},
    "data": {"values": [{}]},
    "layer": [
      {"mark": {"type": "text", "text": "Fig. 3", "align": "left", "baseline": "middle", "font": "Lato", "fontSize": 13.3, "fontWeight": "bold", "color": "#1a1a1a"}, "encoding": {"x": {"value": 0}, "y": {"value": 14}}},
      {"mark": {"type": "text", "text": "Performances on DBEColi for the S1 (random split), S2 (orphan proteins in test set), S3 (orphan molecules in test set), and S4 (double orphan", "align": "left", "baseline": "middle", "dx": 45, "font": "Lato", "fontSize": 13.3, "color": "#333"}, "encoding": {"x": {"value": 0}, "y": {"value": 14}}},
      {"mark": {"type": "text", "text": "in test set) settings, with a positive:negative samples ratio set to 1:5. For each setting, the order from left to right in which the results are displayed is", "align": "left", "baseline": "middle", "font": "Lato", "fontSize": 13.3, "color": "#333"}, "encoding": {"x": {"value": 0}, "y": {"value": 31}}},
      {"mark": {"type": "text", "text": "given in the legend", "align": "left", "baseline": "middle", "font": "Lato", "fontSize": 13.3, "color": "#333"}, "encoding": {"x": {"value": 0}, "y": {"value": 48}}}
    ]
  },
  {
    "bounds": "flush",
    "spacing": 94,
    "resolve": {"scale": {"fill": "independent", "color": "independent"}, "legend": {"fill": "independent", "color": "independent"}},
    "hconcat": [
      {"width": 26, "height": 10, "view": {"stroke": null}, "data": {"values": []}, "mark": "point", "encoding": {}},
      {
        "width": 280, "height": 190,
        "title": {"text": "a ROCAUC performance.", "orient": "bottom", "anchor": "middle", "frame": "group", "offset": 8},
        "encoding": {"x": {"field": "setting", "type": "nominal", "title": "Setting", "scale": {"domain": ["1","2","3","4"], "paddingInner": 0, "paddingOuter": 0}, "axis": {"labelAngle": 0, "grid": true, "bandPosition": 0.5}}},
        "layer": [
          {"data": {"name": "sep"}, "mark": {"type": "rule", "color": "#6e6e6e", "strokeWidth": 2}, "encoding": {"x": {"field": "setting", "type": "nominal", "bandPosition": 0}}},
          {"data": {"name": "p3_box"},
           "encoding": {"xOffset": {"field": "method", "type": "nominal", "sort": null, "scale": {"domain": ["kronSVM","CN","FNN","NRLMF"], "paddingInner": 0.1, "paddingOuter": 0.55}}},
           "layer": [
             {"mark": {"type": "rule", "color": "#7f7f7f", "strokeWidth": 1}, "encoding": {"y": {"field": "lo", "type": "quantitative", "title": "ROCAUC", "scale": {"domain": [45.4, 93.6], "nice": false, "zero": false}, "axis": {"values": [50,60,70,80,90]}}, "y2": {"field": "hi"}}},
             {"mark": {"type": "tick", "orient": "horizontal", "size": 6.3, "thickness": 1, "color": "#7f7f7f"}, "encoding": {"y": {"field": "lo", "type": "quantitative", "title": "ROCAUC", "scale": {"domain": [45.4, 93.6], "nice": false, "zero": false}, "axis": {"values": [50,60,70,80,90]}}}},
             {"mark": {"type": "tick", "orient": "horizontal", "size": 6.3, "thickness": 1, "color": "#7f7f7f"}, "encoding": {"y": {"field": "hi", "type": "quantitative", "title": "ROCAUC", "scale": {"domain": [45.4, 93.6], "nice": false, "zero": false}, "axis": {"values": [50,60,70,80,90]}}}},
             {"mark": {"type": "bar", "stroke": "#7f7f7f", "strokeWidth": 1}, "encoding": {"y": {"field": "q1", "type": "quantitative", "title": "ROCAUC", "scale": {"domain": [45.4, 93.6], "nice": false, "zero": false}, "axis": {"values": [50,60,70,80,90]}}, "y2": {"field": "q3"}, "fill": {"field": "method", "type": "nominal", "scale": {"domain": ["kronSVM","CN","FNN","NRLMF"], "range": ["#8dd3c7","#ffffb3","#bebada","#fb8072"]}, "legend": {"orient": "bottom-left", "title": null}}}},
             {"mark": {"type": "tick", "orient": "horizontal", "size": 12.6, "thickness": 1, "color": "#7f7f7f"}, "encoding": {"y": {"field": "med", "type": "quantitative", "title": "ROCAUC", "scale": {"domain": [45.4, 93.6], "nice": false, "zero": false}, "axis": {"values": [50,60,70,80,90]}}}}
           ]},
          {"data": {"name": "p3_pts"}, "mark": {"type": "circle", "size": 10, "opacity": 1},
           "encoding": {"xOffset": {"field": "method", "type": "nominal", "sort": null, "scale": {"domain": ["kronSVM","CN","FNN","NRLMF"], "paddingInner": 0.1, "paddingOuter": 0.55}},
             "y": {"field": "value", "type": "quantitative", "title": "ROCAUC", "scale": {"domain": [45.4, 93.6], "nice": false, "zero": false}, "axis": {"values": [50,60,70,80,90]}},
             "color": {"field": "method", "type": "nominal", "scale": {"domain": ["kronSVM","CN","FNN","NRLMF"], "range": ["#1f77b4","#ff7f0e","#2ca02c","#d62728"]}, "legend": null}}}
        ]
      },
      {
        "width": 280, "height": 190,
        "title": {"text": "b AUPR performance.", "orient": "bottom", "anchor": "middle", "frame": "group", "offset": 8},
        "encoding": {"x": {"field": "setting", "type": "nominal", "title": "Setting", "scale": {"domain": ["1","2","3","4"], "paddingInner": 0, "paddingOuter": 0}, "axis": {"labelAngle": 0, "grid": true, "bandPosition": 0.5}}},
        "layer": [
          {"data": {"name": "sep"}, "mark": {"type": "rule", "color": "#6e6e6e", "strokeWidth": 2}, "encoding": {"x": {"field": "setting", "type": "nominal", "bandPosition": 0}}},
          {"data": {"name": "p4_box"},
           "encoding": {"xOffset": {"field": "method", "type": "nominal", "sort": null, "scale": {"domain": ["kronSVM","CN","FNN","NRLMF"], "paddingInner": 0.1, "paddingOuter": 0.55}}},
           "layer": [
             {"mark": {"type": "rule", "color": "#7f7f7f", "strokeWidth": 1}, "encoding": {"y": {"field": "lo", "type": "quantitative", "title": "AUPR", "scale": {"domain": [12, 79.9], "nice": false, "zero": false}, "axis": {"values": [20,30,40,50,60,70]}}, "y2": {"field": "hi"}}},
             {"mark": {"type": "tick", "orient": "horizontal", "size": 6.3, "thickness": 1, "color": "#7f7f7f"}, "encoding": {"y": {"field": "lo", "type": "quantitative", "title": "AUPR", "scale": {"domain": [12, 79.9], "nice": false, "zero": false}, "axis": {"values": [20,30,40,50,60,70]}}}},
             {"mark": {"type": "tick", "orient": "horizontal", "size": 6.3, "thickness": 1, "color": "#7f7f7f"}, "encoding": {"y": {"field": "hi", "type": "quantitative", "title": "AUPR", "scale": {"domain": [12, 79.9], "nice": false, "zero": false}, "axis": {"values": [20,30,40,50,60,70]}}}},
             {"mark": {"type": "bar", "stroke": "#7f7f7f", "strokeWidth": 1}, "encoding": {"y": {"field": "q1", "type": "quantitative", "title": "AUPR", "scale": {"domain": [12, 79.9], "nice": false, "zero": false}, "axis": {"values": [20,30,40,50,60,70]}}, "y2": {"field": "q3"}, "fill": {"field": "method", "type": "nominal", "scale": {"domain": ["kronSVM","CN","FNN","NRLMF"], "range": ["#8dd3c7","#ffffb3","#bebada","#fb8072"]}, "legend": {"orient": "top-right", "title": null}}}},
             {"mark": {"type": "tick", "orient": "horizontal", "size": 12.6, "thickness": 1, "color": "#7f7f7f"}, "encoding": {"y": {"field": "med", "type": "quantitative", "title": "AUPR", "scale": {"domain": [12, 79.9], "nice": false, "zero": false}, "axis": {"values": [20,30,40,50,60,70]}}}}
           ]},
          {"data": {"name": "p4_pts"}, "mark": {"type": "circle", "size": 10, "opacity": 1},
           "encoding": {"xOffset": {"field": "method", "type": "nominal", "sort": null, "scale": {"domain": ["kronSVM","CN","FNN","NRLMF"], "paddingInner": 0.1, "paddingOuter": 0.55}},
             "y": {"field": "value", "type": "quantitative", "title": "AUPR", "scale": {"domain": [12, 79.9], "nice": false, "zero": false}, "axis": {"values": [20,30,40,50,60,70]}},
             "color": {"field": "method", "type": "nominal", "scale": {"domain": ["kronSVM","CN","FNN","NRLMF"], "range": ["#1f77b4","#ff7f0e","#2ca02c","#d62728"]}, "legend": null}}}
        ]
      }
    ]
  },
  {
    "width": 860, "height": 64, "view": {"stroke": null},
    "data": {"values": [{}]},
    "layer": [
      {"mark": {"type": "text", "text": "Fig. 4", "align": "left", "baseline": "middle", "font": "Lato", "fontSize": 13.3, "fontWeight": "bold", "color": "#1a1a1a"}, "encoding": {"x": {"value": 0}, "y": {"value": 17}}},
      {"mark": {"type": "text", "text": "Performances on DBHuman for the S1 (random split), S2 (orphan proteins in test set), S3 (orphan molecules in test set), and S4 (double", "align": "left", "baseline": "middle", "dx": 45, "font": "Lato", "fontSize": 13.3, "color": "#333"}, "encoding": {"x": {"value": 0}, "y": {"value": 17}}},
      {"mark": {"type": "text", "text": "orphan in test set) settings, with a positive:negative samples ratio set to 1:5. For each setting, the order from left to right in which the results are", "align": "left", "baseline": "middle", "font": "Lato", "fontSize": 13.3, "color": "#333"}, "encoding": {"x": {"value": 0}, "y": {"value": 34}}},
      {"mark": {"type": "text", "text": "displayed is given in the legend", "align": "left", "baseline": "middle", "font": "Lato", "fontSize": 13.3, "color": "#333"}, "encoding": {"x": {"value": 0}, "y": {"value": 51}}}
    ]
  }
]
}
